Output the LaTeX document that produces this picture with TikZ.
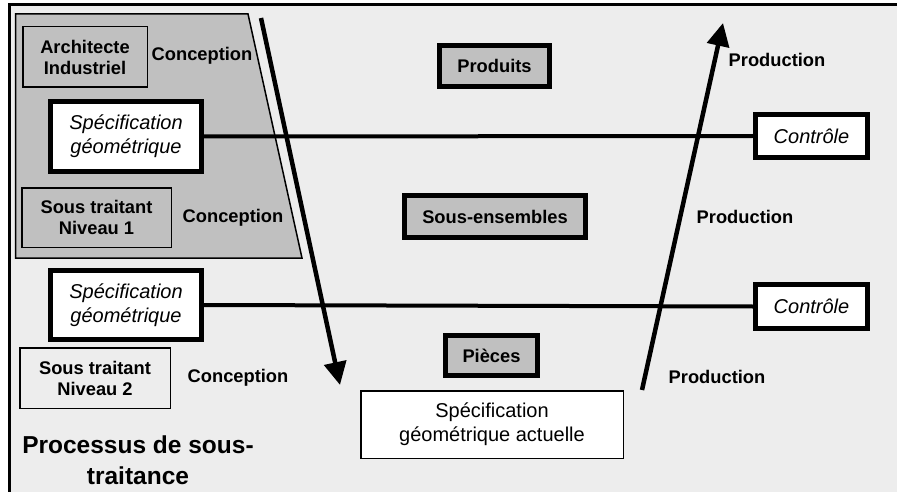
\documentclass[tikz,border=0pt]{standalone}
\usepackage{fontspec}
\setmainfont{Liberation Sans}
\usetikzlibrary{arrows.meta}
\definecolor{bggray}{RGB}{237,237,237}
\definecolor{boxgray}{RGB}{192,192,192}
\begin{document}
\begin{tikzpicture}[x=1pt,y=-1pt,
  boldtxt/.style={font=\fontsize{18.3}{21}\selectfont\bfseries, align=center},
  thinbox/.style={draw=black, line width=1.5pt, inner sep=0pt, boldtxt},
  thickbox/.style={draw=black, line width=5pt, inner sep=0pt},
  specbox/.style={thickbox, fill=white, font=\fontsize{20}{24}\selectfont\itshape, align=center},
  graybox/.style={thickbox, fill=boxgray, boldtxt},
  hline/.style={line width=4pt},
  flow/.style={line width=4.5pt, -{Triangle[length=23pt,width=22pt]}},
  lbl/.style={boldtxt, inner sep=0pt}
]
\useasboundingbox (0,0) rectangle (897,492);
% background frame
\fill[bggray] (9,4.5) rectangle (897,492);
\draw[line width=3pt] (9,492) -- (9,4.5) -- (897,4.5);
% grey trapezoid
\draw[line width=1.5pt, fill=boxgray] (15.5,14) -- (248,14) -- (302,258) -- (15.5,258) -- cycle;

% boxes
\node[thinbox, fill=boxgray, minimum width=124.5pt, minimum height=60.5pt] (arch) at (85,57) {Architecte\\Industriel};
\node[lbl] (c1) at (202,56) {Conception};
\node[specbox, minimum width=151pt, minimum height=70pt] (spec1) at (126,136.5) {Spécification\\géométrique};
\node[thinbox, fill=boxgray, minimum width=149.5pt, minimum height=59.5pt] (st1) at (96.5,217.5) {Sous traitant\\Niveau 1};
\node[lbl] (c2) at (233,218) {Conception};

\node[specbox, minimum width=112pt, minimum height=43pt] (ctrl1) at (811.5,136) {Contrôle};
\node[specbox, minimum width=151pt, minimum height=69pt] (spec2) at (126,305) {Spécification\\géométrique};
\node[specbox, minimum width=112pt, minimum height=44pt] (ctrl2) at (811.5,306.5) {Contrôle};

\node[thinbox, fill=bggray, minimum width=150.5pt, minimum height=60.5pt] (st2) at (95,378) {Sous traitant\\Niveau 2};
\node[lbl] (c3) at (238,378) {Conception};

\node[graybox, minimum width=110pt, minimum height=41pt] (prod) at (494.5,66) {Produits};
\node[graybox, minimum width=181pt, minimum height=42pt] (sens) at (495,216.5) {Sous-ensembles};
\node[graybox, minimum width=92pt, minimum height=40pt] (pieces) at (491.5,355.5) {Pièces};

\node[draw=black, line width=1.5pt, fill=white, inner sep=0pt, minimum width=262.5pt, minimum height=67.5pt,
      font=\fontsize{20}{24}\selectfont, align=center] (act) at (492,424.5) {Spécification\\géométrique actuelle};

\node[lbl] (p1) at (777,60) {Production};
\node[lbl] (p2) at (745,217) {Production};
\node[lbl] (p3) at (717,377) {Production};

\node[font=\fontsize{24.5}{31}\selectfont\bfseries, align=center, inner sep=0pt] (title) at (138,460) {Processus de sous-\\traitance};

% connectors
\draw[hline] (spec1.east) -- (ctrl1.west);
\draw[hline] (spec2.east) -- (ctrl2.west);

\coordinate (d0) at (261,18);
\coordinate (d1) at (340,385);
\coordinate (u0) at (642,390);
\coordinate (u1) at (723,23);
\draw[flow] (d0) -- (d1);
\draw[flow] (u0) -- (u1);
\end{tikzpicture}
\end{document}
